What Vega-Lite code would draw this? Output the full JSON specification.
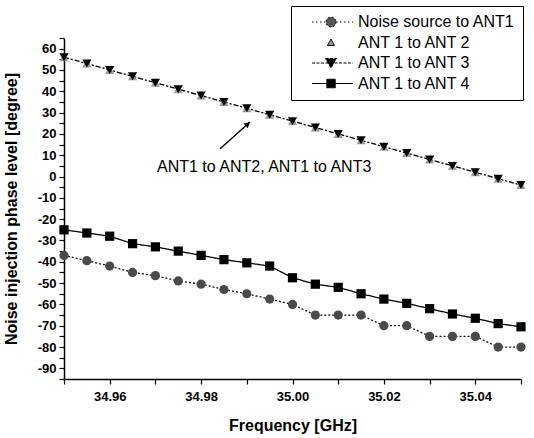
{
  "$schema": "https://vega.github.io/schema/vega-lite/v6.json",
  "width": 457,
  "height": 341,
  "padding": {"left": 3, "top": 5, "right": 5, "bottom": 5},
  "background": "white",
  "config": {
    "view": {"stroke": null},
    "font": "Liberation Sans",
    "axis": {
      "grid": false, "domainColor": "black", "tickColor": "black", "labelColor": "black", "titleColor": "black",
      "labelFont": "Liberation Sans", "titleFont": "Liberation Sans", "labelFontWeight": "bold", "labelFontSize": 13,
      "titleFontSize": 16, "titleFontWeight": "bold", "tickSize": 5, "domainWidth": 1.5, "tickWidth": 1.2
    },
    "legend": {
      "strokeColor": "black", "fillColor": "white", "padding": 8, "cornerRadius": 0,
      "labelFont": "Liberation Sans", "labelFontSize": 16, "labelColor": "black", "rowPadding": 4.5,
      "labelOffset": 43, "symbolSize": 100, "symbolStrokeWidth": 1, "symbolOpacity": 1,
      "symbolBaseFillColor": "black", "symbolBaseStrokeColor": "black"
    }
  },
  "data": {"values": [
    {"series":"ANT 1 to ANT 2","freq":34.95,"phase":56},{"series":"ANT 1 to ANT 2","freq":34.955,"phase":53},{"series":"ANT 1 to ANT 2","freq":34.96,"phase":50},{"series":"ANT 1 to ANT 2","freq":34.965,"phase":47},{"series":"ANT 1 to ANT 2","freq":34.97,"phase":44},{"series":"ANT 1 to ANT 2","freq":34.975,"phase":41},{"series":"ANT 1 to ANT 2","freq":34.98,"phase":38},{"series":"ANT 1 to ANT 2","freq":34.985,"phase":35},{"series":"ANT 1 to ANT 2","freq":34.99,"phase":32},{"series":"ANT 1 to ANT 2","freq":34.995,"phase":29},{"series":"ANT 1 to ANT 2","freq":35.0,"phase":26},{"series":"ANT 1 to ANT 2","freq":35.005,"phase":23},{"series":"ANT 1 to ANT 2","freq":35.01,"phase":20},{"series":"ANT 1 to ANT 2","freq":35.015,"phase":17},{"series":"ANT 1 to ANT 2","freq":35.02,"phase":14},{"series":"ANT 1 to ANT 2","freq":35.025,"phase":11},{"series":"ANT 1 to ANT 2","freq":35.03,"phase":8},{"series":"ANT 1 to ANT 2","freq":35.035,"phase":5},{"series":"ANT 1 to ANT 2","freq":35.04,"phase":2},{"series":"ANT 1 to ANT 2","freq":35.045,"phase":-1},{"series":"ANT 1 to ANT 2","freq":35.05,"phase":-4},
    {"series":"Noise source to ANT1","freq":34.95,"phase":-37},{"series":"Noise source to ANT1","freq":34.955,"phase":-39.5},{"series":"Noise source to ANT1","freq":34.96,"phase":-42},{"series":"Noise source to ANT1","freq":34.965,"phase":-45},{"series":"Noise source to ANT1","freq":34.97,"phase":-46.5},{"series":"Noise source to ANT1","freq":34.975,"phase":-49},{"series":"Noise source to ANT1","freq":34.98,"phase":-50.5},{"series":"Noise source to ANT1","freq":34.985,"phase":-53},{"series":"Noise source to ANT1","freq":34.99,"phase":-55},{"series":"Noise source to ANT1","freq":34.995,"phase":-57.5},{"series":"Noise source to ANT1","freq":35.0,"phase":-60},{"series":"Noise source to ANT1","freq":35.005,"phase":-65},{"series":"Noise source to ANT1","freq":35.01,"phase":-65},{"series":"Noise source to ANT1","freq":35.015,"phase":-65},{"series":"Noise source to ANT1","freq":35.02,"phase":-70},{"series":"Noise source to ANT1","freq":35.025,"phase":-70},{"series":"Noise source to ANT1","freq":35.03,"phase":-75},{"series":"Noise source to ANT1","freq":35.035,"phase":-75},{"series":"Noise source to ANT1","freq":35.04,"phase":-75},{"series":"Noise source to ANT1","freq":35.045,"phase":-80},{"series":"Noise source to ANT1","freq":35.05,"phase":-80},
    {"series":"ANT 1 to ANT 3","freq":34.95,"phase":56},{"series":"ANT 1 to ANT 3","freq":34.955,"phase":53},{"series":"ANT 1 to ANT 3","freq":34.96,"phase":50},{"series":"ANT 1 to ANT 3","freq":34.965,"phase":47},{"series":"ANT 1 to ANT 3","freq":34.97,"phase":44},{"series":"ANT 1 to ANT 3","freq":34.975,"phase":41},{"series":"ANT 1 to ANT 3","freq":34.98,"phase":38},{"series":"ANT 1 to ANT 3","freq":34.985,"phase":35},{"series":"ANT 1 to ANT 3","freq":34.99,"phase":32},{"series":"ANT 1 to ANT 3","freq":34.995,"phase":29},{"series":"ANT 1 to ANT 3","freq":35.0,"phase":26},{"series":"ANT 1 to ANT 3","freq":35.005,"phase":23},{"series":"ANT 1 to ANT 3","freq":35.01,"phase":20},{"series":"ANT 1 to ANT 3","freq":35.015,"phase":17},{"series":"ANT 1 to ANT 3","freq":35.02,"phase":14},{"series":"ANT 1 to ANT 3","freq":35.025,"phase":11},{"series":"ANT 1 to ANT 3","freq":35.03,"phase":8},{"series":"ANT 1 to ANT 3","freq":35.035,"phase":5},{"series":"ANT 1 to ANT 3","freq":35.04,"phase":2},{"series":"ANT 1 to ANT 3","freq":35.045,"phase":-1},{"series":"ANT 1 to ANT 3","freq":35.05,"phase":-4},
    {"series":"ANT 1 to ANT 4","freq":34.95,"phase":-25},{"series":"ANT 1 to ANT 4","freq":34.955,"phase":-26.5},{"series":"ANT 1 to ANT 4","freq":34.96,"phase":-28},{"series":"ANT 1 to ANT 4","freq":34.965,"phase":-31.5},{"series":"ANT 1 to ANT 4","freq":34.97,"phase":-33},{"series":"ANT 1 to ANT 4","freq":34.975,"phase":-35},{"series":"ANT 1 to ANT 4","freq":34.98,"phase":-37},{"series":"ANT 1 to ANT 4","freq":34.985,"phase":-39},{"series":"ANT 1 to ANT 4","freq":34.99,"phase":-40.5},{"series":"ANT 1 to ANT 4","freq":34.995,"phase":-42},{"series":"ANT 1 to ANT 4","freq":35.0,"phase":-47.5},{"series":"ANT 1 to ANT 4","freq":35.005,"phase":-50.5},{"series":"ANT 1 to ANT 4","freq":35.01,"phase":-52},{"series":"ANT 1 to ANT 4","freq":35.015,"phase":-55},{"series":"ANT 1 to ANT 4","freq":35.02,"phase":-57.5},{"series":"ANT 1 to ANT 4","freq":35.025,"phase":-59.5},{"series":"ANT 1 to ANT 4","freq":35.03,"phase":-62},{"series":"ANT 1 to ANT 4","freq":35.035,"phase":-64.5},{"series":"ANT 1 to ANT 4","freq":35.04,"phase":-66.5},{"series":"ANT 1 to ANT 4","freq":35.045,"phase":-69},{"series":"ANT 1 to ANT 4","freq":35.05,"phase":-70.5}
  ]},
  "encoding": {
    "x": {
      "field": "freq", "type": "quantitative", "title": "Frequency [GHz]",
      "scale": {"domain": [34.95, 35.05], "nice": false, "zero": false},
      "axis": {
        "values": [34.95, 34.96, 34.97, 34.98, 34.99, 35.0, 35.01, 35.02, 35.03, 35.04, 35.05],
        "labelExpr": "round(datum.value*100) % 2 === 0 ? format(datum.value, '.2f') : ''",
        "labelPadding": 6, "titlePadding": 14
      }
    },
    "y": {
      "field": "phase", "type": "quantitative", "title": "Noise injection phase level [degree]",
      "scale": {"domain": [-95, 65], "nice": false, "zero": false},
      "axis": {
        "values": [-95,-90,-85,-80,-75,-70,-65,-60,-55,-50,-45,-40,-35,-30,-25,-20,-15,-10,-5,0,5,10,15,20,25,30,35,40,45,50,55,60,65],
        "labelExpr": "datum.value % 10 === 0 ? '' + datum.value : ''",
        "labelPadding": 3, "titlePadding": 18
      }
    }
  },
  "layer": [
    {
      "transform": [{"filter": "datum.freq > 0"}],
      "mark": {"type": "line", "strokeWidth": 1.3},
      "encoding": {
        "color": {"field": "series", "type": "nominal", "legend": null,
          "scale": {"domain": ["Noise source to ANT1", "ANT 1 to ANT 2", "ANT 1 to ANT 3", "ANT 1 to ANT 4"], "range": ["#111111", "#bbbbbb", "#000000", "#000000"]}},
        "strokeDash": {"field": "series", "type": "nominal", "legend": null,
          "scale": {"domain": ["Noise source to ANT1", "ANT 1 to ANT 2", "ANT 1 to ANT 3", "ANT 1 to ANT 4"], "range": [[2, 2], [1, 3], [5, 2, 2, 2], [1, 0]]}}
      }
    },
    {
      "mark": {"type": "point", "filled": true, "size": 85, "opacity": 1},
      "encoding": {
        "color": {"field": "series", "type": "nominal", "legend": null,
          "scale": {"domain": ["Noise source to ANT1", "ANT 1 to ANT 2", "ANT 1 to ANT 3", "ANT 1 to ANT 4"], "range": ["#4a4a4a", "#9a9a9a", "#000000", "#000000"]}},
        "shape": {"field": "series", "type": "nominal", "legend": null,
          "scale": {"domain": ["Noise source to ANT1", "ANT 1 to ANT 2", "ANT 1 to ANT 3", "ANT 1 to ANT 4"], "range": ["circle", "triangle-up", "triangle-down", "square"]}}
      }
    },
    {
      "transform": [{"filter": "datum.freq < 0"}],
      "mark": {"type": "point", "filled": true, "stroke": "black", "strokeWidth": 1, "opacity": 1},
      "encoding": {
        "fill": {"field": "series", "type": "nominal",
          "legend": {"title": null, "orient": "none", "legendX": 227, "legendY": -32},
          "scale": {"domain": ["Noise source to ANT1", "ANT 1 to ANT 2", "ANT 1 to ANT 3", "ANT 1 to ANT 4"], "range": ["#555555", "#999999", "#000000", "#000000"]}},
        "shape": {"field": "series", "type": "nominal",
          "legend": {"title": null, "orient": "none", "legendX": 227, "legendY": -32},
          "scale": {"domain": ["Noise source to ANT1", "ANT 1 to ANT 2", "ANT 1 to ANT 3", "ANT 1 to ANT 4"], "range": [
            "M1,0L3.8,0M5.8,0L9.2,0M5.8,0A1,1,0,1,1,3.8,0A1,1,0,1,1,5.8,0Z",
            "M4.8,-0.7L5.5,0.6L4.1,0.6Z",
            "M1,0L9.2,0M3.7,-0.9L5.9,-0.9L4.8,1Z",
            "M1,0L9.2,0M3.95,-0.85L5.65,-0.85L5.65,0.85L3.95,0.85Z"
          ]}},
        "strokeDash": {"field": "series", "type": "nominal",
          "legend": {"title": null, "orient": "none", "legendX": 227, "legendY": -32},
          "scale": {"domain": ["Noise source to ANT1", "ANT 1 to ANT 2", "ANT 1 to ANT 3", "ANT 1 to ANT 4"], "range": [[1.5, 2.5], [1, 0], [3, 1.5], [1, 0]]}}
      }
    },
    {
      "data": {"values": [{"freq": 34.9938, "phase": 4.5, "label": "ANT1 to ANT2, ANT1 to ANT3"}]},
      "mark": {"type": "text", "fontSize": 16, "font": "Liberation Sans", "color": "black", "align": "center", "baseline": "middle"},
      "encoding": {"text": {"field": "label", "type": "nominal"}}
    },
    {
      "data": {"values": [{"freq": 34.9841, "phase": 12.9, "freq2": 34.9907, "phase2": 25.6}]},
      "mark": {"type": "rule", "strokeWidth": 1.5, "color": "black"},
      "encoding": {"x2": {"field": "freq2"}, "y2": {"field": "phase2"}}
    },
    {
      "data": {"values": [{"freq": 34.9902, "phase": 24.6}]},
      "mark": {"type": "point", "shape": "triangle-up", "angle": 48, "size": 40, "filled": true, "color": "black", "opacity": 1}
    }
  ],
  "resolve": {"scale": {"color": "independent", "shape": "independent", "strokeDash": "independent", "fill": "independent"}}
}
